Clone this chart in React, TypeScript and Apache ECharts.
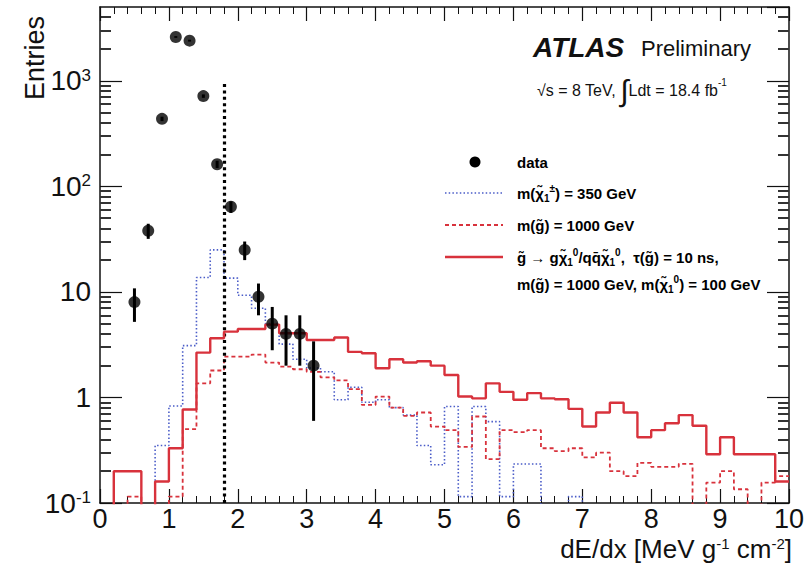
import React, { useEffect, useRef } from 'react';
import * as echarts from 'echarts';

// Bin edges (0.2 wide) of the dE/dx histograms
const BIN_EDGES = [
  0, 0.2, 0.4, 0.6, 0.8, 1.0, 1.2, 1.4, 1.6, 1.8,
  2.0, 2.2, 2.4, 2.6, 2.8, 3.0, 3.2, 3.4, 3.6, 3.8,
  4.0, 4.2, 4.4, 4.6, 4.8, 5.0, 5.2, 5.4, 5.6, 5.8,
  6.0, 6.2, 6.4, 6.6, 6.8, 7.0, 7.2, 7.4, 7.6, 7.8,
  8.0, 8.2, 8.4, 8.6, 8.8, 9.0, 9.2, 9.4, 9.6, 9.8, 10.0,
];

// gluino -> g chi0 / qq chi0, tau = 10 ns (red solid)
const SIG_10NS = [
  0, 0.2, 0.2, 0, 0.16, 0.33, 0.77, 2.66, 3.64, 4.2,
  4.45, 4.45, 4.9, 4.06, 4.06, 3.5, 3.5, 3.7, 2.7, 2.62,
  1.89, 2.3, 2.14, 2.2, 2.0, 1.63, 1.02, 0.98, 1.36, 1.13,
  0.95, 1.1, 0.98, 0.96, 0.78, 0.53, 0.72, 0.89, 0.72, 0.42,
  0.49, 0.57, 0.68, 0.54, 0.29, 0.42, 0.29, 0.29, 0.29, 0.16,
];

// m(gluino) = 1000 GeV (red dashed)
const GLUINO_1000 = [
  0, 0, 0.115, 0, 0, 0.115, 0.5, 1.36, 1.8, 2.44,
  2.44, 2.55, 2.14, 1.96, 1.85, 1.75, 1.55, 1.45, 1.2, 0.85,
  1.02, 0.8, 0.67, 0.72, 0.53, 0.49, 0.34, 0.66, 0.26, 0.49,
  0.47, 0.49, 0.33, 0.31, 0.33, 0.27, 0.3, 0.2, 0.18, 0.24,
  0.22, 0.22, 0.235, 0, 0.156, 0.2, 0.135, 0, 0.156, 0.18,
];

// m(chargino) = 350 GeV (blue dotted)
const CHARGINO_350 = [
  0, 0, 0, 0, 0.35, 0.83, 3.1, 13.7, 25, 13.5,
  9.3, 7.0, 5.0, 3.2, 2.3, 1.9, 1.75, 0.95, 1.25, 0.9,
  0.95, 0.8, 0.68, 0.35, 0.23, 0.82, 0.115, 0.82, 0.59, 0.115,
  0.234, 0.234, 0, 0, 0.115, 0, 0, 0, 0, 0,
  0, 0, 0, 0, 0, 0, 0, 0, 0, 0,
];

// Data points
const DATA_X = [0.5, 0.7, 0.9, 1.1, 1.3, 1.5, 1.7, 1.9, 2.1, 2.3, 2.5, 2.7, 2.9, 3.1];
const DATA_Y = [8, 38, 436, 2600, 2400, 716, 162, 64, 25, 9, 5, 4, 4, 2];
const DATA_ERR = [2.8, 6.2, 21, 51, 49, 27, 12.7, 8, 5, 3, 2.2, 2, 2, 1.4];

// Axis
const X_MIN = 0;
const X_MAX = 10;
const Y_MIN = 0.1;
const Y_MAX = 5000;
const Y_MINOR_TICKS = [
  0.2, 0.3, 0.4, 0.5, 0.6, 0.7, 0.8, 0.9,
  2, 3, 4, 5, 6, 7, 8, 9,
  20, 30, 40, 50, 60, 70, 80, 90,
  200, 300, 400, 500, 600, 700, 800, 900,
  2000, 3000, 4000,
];

// Selection cut
const CUT_X = 1.8;
const CUT_TOP = 1000;

const FONT = '"Liberation Sans", Arial, Helvetica, sans-serif';
const FLOOR = 1e-3;
const RED = '#d8323c';
const BLUE = '#4a5cc8';

function stepData(vals: number[]) {
  const pts: number[][] = vals.map((v, i) => [BIN_EDGES[i], v > 0 ? v : FLOOR]);
  const last = vals[vals.length - 1];
  pts.push([BIN_EDGES[BIN_EDGES.length - 1], last > 0 ? last : FLOOR]);
  return pts;
}

const legRich = {
  t: { fontSize: 15, fontWeight: 'bold', fontFamily: FONT, color: '#111', lineHeight: 20 },
  sb: { fontSize: 10, fontWeight: 'bold', fontFamily: FONT, color: '#111', lineHeight: 10, verticalAlign: 'bottom' },
  sp: { fontSize: 10, fontWeight: 'bold', fontFamily: FONT, color: '#111', lineHeight: 10, verticalAlign: 'top' },
};

export default function App() {
  const ref = useRef<HTMLDivElement>(null);
  useEffect(() => {
    if (!ref.current) return;
    const chart = echarts.init(ref.current, undefined, { renderer: 'svg' });
    const chi = '\u03C7\u0303';
    const gl = 'g\u0303';
    const qbar = 'q\u0304';

    const xAxisBase = {
      type: 'value',
      min: X_MIN,
      max: X_MAX,
      interval: 1,
      splitLine: { show: false },
      axisLine: { show: true, onZero: false, lineStyle: { color: '#111', width: 1.5 } },
      axisTick: { show: true, inside: true, length: 14, lineStyle: { color: '#111', width: 1.2 } },
      minorTick: { show: true, splitNumber: 5, length: 7, lineStyle: { color: '#111', width: 1 } },
      minorSplitLine: { show: false },
    };
    const yAxisBase = {
      type: 'log',
      logBase: 10,
      min: Y_MIN,
      max: Y_MAX,
      splitLine: { show: false },
      axisLine: { show: true, onZero: false, lineStyle: { color: '#111', width: 1.5 } },
      axisTick: { show: true, inside: true, length: 22, lineStyle: { color: '#111', width: 1.2 } },
    };
    const yMinorAxisBase = {
      type: 'log',
      logBase: 10,
      min: Y_MIN,
      max: Y_MAX,
      splitLine: { show: false },
      axisLine: { show: false, onZero: false },
      axisLabel: { show: false },
      axisTick: {
        show: true,
        inside: true,
        length: 11,
        customValues: Y_MINOR_TICKS,
        lineStyle: { color: '#333', width: 2 },
      },
    };

    const option: any = {
      animation: false,
      backgroundColor: '#fff',
      grid: { left: 100, top: 7, width: 689, height: 496, containLabel: false, outerBoundsMode: 'none' },
      xAxis: [
        {
          ...xAxisBase,
          position: 'bottom',
          axisLabel: { show: true, fontSize: 27, lineHeight: 26, fontFamily: FONT, color: '#111', margin: 3 },
        },
        {
          ...xAxisBase,
          position: 'top',
          axisLabel: { show: false },
        },
      ],
      yAxis: [
        {
          ...yAxisBase,
          position: 'left',
          axisLabel: {
            show: true,
            margin: 9,
            showMaxLabel: false,
            formatter: (v: number) => {
              const l = Math.log10(v);
              const e = Math.round(l);
              if (Math.abs(l - e) > 1e-6) return '';
              if (e === 0) return '{b|1}';
              if (e === 1) return '{b|10}';
              return `{b|10}{s|${e}}`;
            },
            rich: {
              b: { fontSize: 28, fontFamily: FONT, color: '#111', lineHeight: 28, padding: [8, 0, 0, 0], verticalAlign: 'bottom' },
              s: { fontSize: 17, fontFamily: FONT, color: '#111', lineHeight: 17, verticalAlign: 'top' },
            },
          },
        },
        {
          ...yAxisBase,
          position: 'right',
          axisLabel: { show: false },
        },
        { ...yMinorAxisBase, position: 'left' },
        { ...yMinorAxisBase, position: 'right' },
      ],
      series: [
        {
          type: 'line',
          name: 'chargino350',
          step: 'end',
          showSymbol: false,
          symbol: 'none',
          clip: true,
          data: stepData(CHARGINO_350),
          lineStyle: { color: BLUE, width: 1.6, type: [1.5, 2.2] },
          z: 3,
        },
        {
          type: 'line',
          name: 'gluino1000',
          step: 'end',
          showSymbol: false,
          symbol: 'none',
          clip: true,
          data: stepData(GLUINO_1000),
          lineStyle: { color: RED, width: 1.8, type: [4, 3] },
          z: 4,
        },
        {
          type: 'line',
          name: 'sig10ns',
          step: 'end',
          showSymbol: false,
          symbol: 'none',
          clip: true,
          data: stepData(SIG_10NS),
          lineStyle: { color: RED, width: 2.4, type: 'solid' },
          z: 5,
        },
        {
          type: 'custom',
          name: 'errors',
          silent: true,
          data: DATA_X.map((x, i) => [x, DATA_Y[i] - DATA_ERR[i], DATA_Y[i] + DATA_ERR[i]]),
          encode: { x: 0, y: [1, 2] },
          renderItem: (params: any, api: any) => {
            const lo = api.coord([api.value(0), api.value(1)]);
            const hi = api.coord([api.value(0), api.value(2)]);
            return {
              type: 'line',
              shape: { x1: lo[0], y1: lo[1], x2: hi[0], y2: hi[1] },
              style: { stroke: '#000', lineWidth: 3 },
            };
          },
          z: 6,
        },
        {
          type: 'scatter',
          name: 'data',
          symbol: 'circle',
          symbolSize: 12,
          itemStyle: { color: '#000' },
          data: DATA_X.map((x, i) => [x, DATA_Y[i]]),
          z: 7,
          markLine: {
            silent: true,
            symbol: 'none',
            label: { show: false },
            lineStyle: { color: '#000', width: 3.2, type: [3, 3.4] },
            data: [[{ coord: [CUT_X, Y_MIN] }, { coord: [CUT_X, CUT_TOP] }]],
          },
        },
      ],
      graphic: [
        {
          type: 'text',
          x: 35,
          y: 58,
          rotation: Math.PI / 2,
          style: { text: 'Entries', fontSize: 27, fontFamily: FONT, fill: '#111', textAlign: 'center', textVerticalAlign: 'middle' },
        },
        {
          type: 'text',
          x: 792,
          y: 549,
          style: {
            text: 'dE/dx [MeV g{s|-1} cm{s|-2}]',
            fontSize: 26,
            fontFamily: FONT,
            fill: '#111',
            textAlign: 'right',
            textVerticalAlign: 'middle',
            rich: {
              s: { fontSize: 15, fontFamily: FONT, fill: '#111', lineHeight: 15, verticalAlign: 'top' },
            },
          },
        },
        {
          type: 'text',
          x: 533,
          y: 47,
          style: { text: 'ATLAS', fontSize: 28, fontWeight: 'bold', fontStyle: 'italic', fontFamily: FONT, fill: '#111', textAlign: 'left', textVerticalAlign: 'middle' },
        },
        {
          type: 'text',
          x: 641,
          y: 48,
          style: { text: 'Preliminary', fontSize: 22, fontFamily: FONT, fill: '#111', textAlign: 'left', textVerticalAlign: 'middle' },
        },
        {
          type: 'text',
          x: 537,
          y: 90,
          style: {
            text: '{t|\u221As = 8 TeV, }{i|\u222B}{t|Ldt = 18.4 fb}{sp|-1}',
            textAlign: 'left',
            textVerticalAlign: 'middle',
            rich: {
              t: { fontSize: 16, fontFamily: FONT, fill: '#111', lineHeight: 26 },
              i: { fontSize: 30, fontFamily: FONT, fill: '#111', lineHeight: 26 },
              sp: { fontSize: 10, fontFamily: FONT, fill: '#111', lineHeight: 16, verticalAlign: 'top' },
            },
          },
        },
        // Legend
        { type: 'circle', shape: { cx: 475, cy: 162, r: 5.5 }, style: { fill: '#000' } },
        { type: 'line', shape: { x1: 445, y1: 193, x2: 503, y2: 193 }, style: { stroke: BLUE, lineWidth: 1.6, lineDash: [1.5, 2.2] } },
        { type: 'line', shape: { x1: 445, y1: 225, x2: 503, y2: 225 }, style: { stroke: RED, lineWidth: 1.8, lineDash: [4, 3] } },
        { type: 'line', shape: { x1: 445, y1: 257, x2: 503, y2: 257 }, style: { stroke: RED, lineWidth: 2.4 } },
        {
          type: 'text', x: 517, y: 162,
          style: { text: '{t|data}', rich: legRich, textAlign: 'left', textVerticalAlign: 'middle' },
        },
        {
          type: 'text', x: 517, y: 193,
          style: { text: `{t|m(${chi}}{sb|1}{sp|\u00B1}{t|) = 350 GeV}`, rich: legRich, textAlign: 'left', textVerticalAlign: 'middle' },
        },
        {
          type: 'text', x: 517, y: 225,
          style: { text: `{t|m(${gl}) = 1000 GeV}`, rich: legRich, textAlign: 'left', textVerticalAlign: 'middle' },
        },
        {
          type: 'text', x: 517, y: 257,
          style: {
            text: `{t|${gl} \u2192 g${chi}}{sb|1}{sp|0}{t|/q${qbar}${chi}}{sb|1}{sp|0}{t|,  \u03C4(${gl}) = 10 ns,}`,
            rich: legRich, textAlign: 'left', textVerticalAlign: 'middle',
          },
        },
        {
          type: 'text', x: 517, y: 284,
          style: {
            text: `{t|m(${gl}) = 1000 GeV, m(${chi}}{sb|1}{sp|0}{t|) = 100 GeV}`,
            rich: legRich, textAlign: 'left', textVerticalAlign: 'middle',
          },
        },
      ],
    };
    chart.setOption(option);
    return () => {
      chart.dispose();
    };
  }, []);
  return (
    <div
      ref={ref}
      style={{ position: 'fixed', left: 0, top: 0, width: 811, height: 569, background: '#fff' }}
    />
  );
}
